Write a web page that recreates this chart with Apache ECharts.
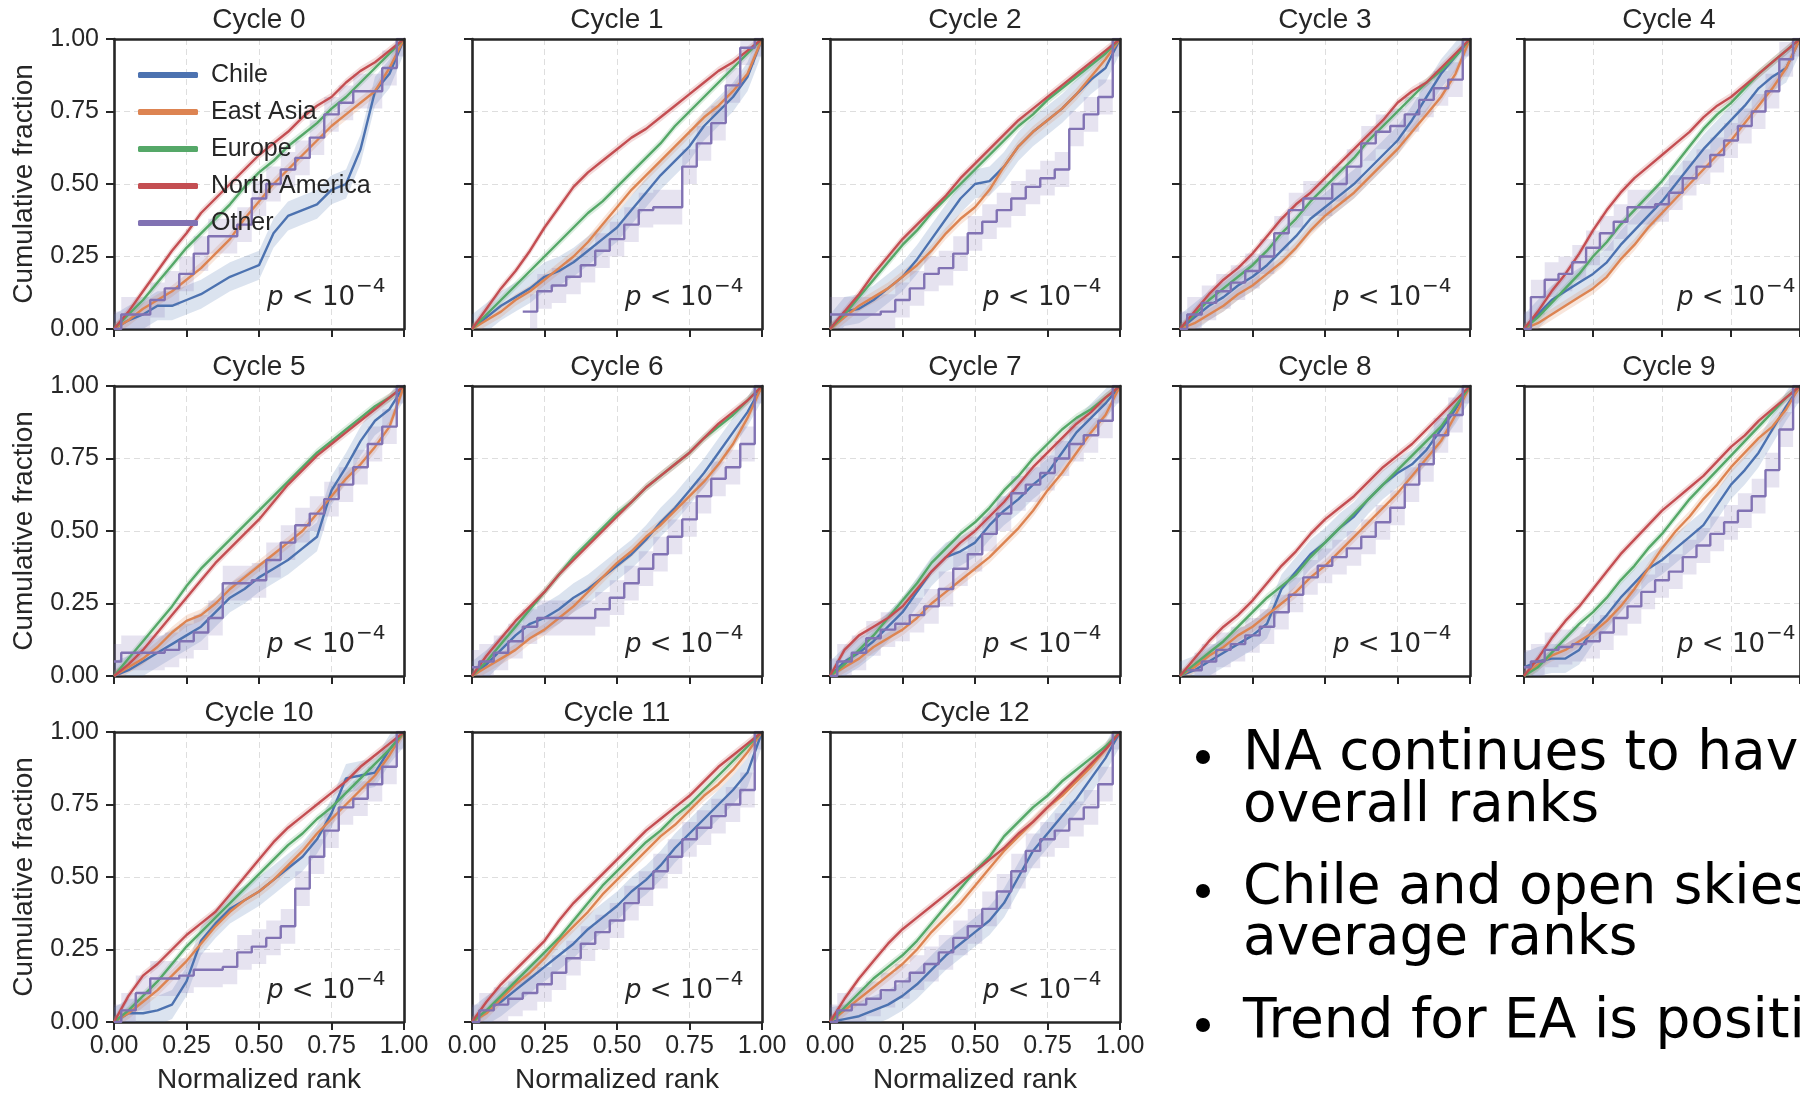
<!DOCTYPE html>
<html>
<head>
<meta charset="utf-8">
<script src="https://cdn.jsdelivr.net/npm/echarts@6/dist/echarts.min.js"></script>
<style>
html,body{margin:0;padding:0;background:#fff;}
#chart{width:1800px;height:1095px;}
</style>
</head>
<body>
<div id="chart"></div>
<script>
// ---------- data ----------
const cycles = ['Cycle 0','Cycle 1','Cycle 2','Cycle 3','Cycle 4','Cycle 5','Cycle 6','Cycle 7','Cycle 8','Cycle 9','Cycle 10','Cycle 11','Cycle 12'];
const groups = ['Chile','East Asia','Europe','North America','Other'];
const rankGrid = [0,0.05,0.1,0.15,0.2,0.25,0.3,0.35,0.4,0.45,0.5,0.55,0.6,0.65,0.7,0.75,0.8,0.85,0.9,0.95,1];
const tickLabels = ['0.00','0.25','0.50','0.75','1.00'];
// approximate half-width of each group's shaded confidence band
const bandHalfWidth = [0.05, 0.02, 0.015, 0.015, 0.06];

const chile = [
 [0,0.03,0.05,0.08,0.08,0.1,0.12,0.15,0.18,0.2,0.22,0.33,0.39,0.41,0.43,0.48,0.5,0.62,0.82,0.88,1],
 [0,0.04,0.08,0.11,0.14,0.18,0.2,0.23,0.27,0.31,0.35,0.41,0.47,0.53,0.58,0.63,0.7,0.75,0.8,0.87,1],
 [0,0.06,0.07,0.1,0.14,0.18,0.24,0.31,0.38,0.45,0.5,0.51,0.56,0.63,0.68,0.72,0.76,0.81,0.86,0.9,1],
 [0,0.04,0.08,0.11,0.15,0.18,0.22,0.27,0.32,0.38,0.42,0.46,0.5,0.55,0.6,0.65,0.72,0.8,0.88,0.94,1],
 [0,0.05,0.1,0.13,0.16,0.19,0.23,0.29,0.34,0.39,0.44,0.5,0.56,0.62,0.67,0.72,0.77,0.83,0.87,0.9,1],
 [0,0.02,0.05,0.08,0.11,0.14,0.17,0.22,0.27,0.3,0.34,0.37,0.4,0.44,0.48,0.64,0.72,0.81,0.88,0.92,1],
 [0,0.04,0.09,0.14,0.18,0.2,0.23,0.27,0.3,0.34,0.38,0.42,0.47,0.53,0.58,0.64,0.7,0.77,0.84,0.91,1],
 [0,0.05,0.08,0.12,0.17,0.22,0.29,0.36,0.41,0.43,0.46,0.52,0.57,0.61,0.66,0.7,0.77,0.84,0.89,0.94,1],
 [0,0.02,0.05,0.08,0.11,0.14,0.18,0.3,0.36,0.42,0.46,0.51,0.55,0.61,0.66,0.7,0.73,0.78,0.85,0.92,1],
 [0.03,0.05,0.06,0.06,0.09,0.16,0.21,0.27,0.32,0.37,0.4,0.44,0.48,0.52,0.59,0.66,0.71,0.77,0.85,0.93,1],
 [0,0.03,0.03,0.04,0.06,0.14,0.28,0.34,0.39,0.42,0.45,0.49,0.53,0.57,0.63,0.72,0.84,0.85,0.86,0.94,1],
 [0,0.04,0.07,0.11,0.15,0.19,0.23,0.27,0.32,0.36,0.4,0.45,0.49,0.54,0.6,0.65,0.7,0.75,0.8,0.86,1],
 [0,0.01,0.02,0.04,0.06,0.09,0.13,0.18,0.23,0.27,0.31,0.35,0.41,0.5,0.59,0.65,0.71,0.77,0.84,0.91,1]
];
const eastAsia = [
 [0,0.03,0.07,0.1,0.13,0.17,0.21,0.26,0.31,0.38,0.44,0.5,0.55,0.6,0.65,0.7,0.74,0.78,0.82,0.9,1],
 [0,0.03,0.06,0.1,0.13,0.17,0.21,0.25,0.3,0.36,0.42,0.48,0.53,0.58,0.63,0.68,0.73,0.77,0.82,0.88,1],
 [0,0.04,0.08,0.11,0.14,0.18,0.22,0.27,0.33,0.38,0.42,0.48,0.56,0.63,0.68,0.72,0.76,0.81,0.87,0.93,1],
 [0,0.02,0.05,0.08,0.12,0.15,0.19,0.23,0.28,0.34,0.39,0.43,0.47,0.52,0.57,0.62,0.68,0.74,0.8,0.88,1],
 [0,0.02,0.05,0.08,0.11,0.14,0.18,0.24,0.29,0.35,0.4,0.45,0.5,0.55,0.6,0.65,0.71,0.77,0.83,0.9,1],
 [0,0.03,0.06,0.1,0.15,0.19,0.21,0.25,0.3,0.34,0.38,0.42,0.46,0.5,0.56,0.62,0.68,0.73,0.79,0.86,1],
 [0,0.03,0.06,0.09,0.13,0.16,0.2,0.24,0.29,0.34,0.39,0.43,0.48,0.52,0.57,0.62,0.67,0.73,0.8,0.89,1],
 [0,0.03,0.06,0.1,0.13,0.16,0.2,0.25,0.29,0.33,0.37,0.41,0.46,0.51,0.57,0.64,0.7,0.77,0.84,0.9,1],
 [0,0.03,0.07,0.1,0.14,0.17,0.21,0.25,0.29,0.34,0.38,0.43,0.48,0.53,0.58,0.63,0.69,0.75,0.81,0.9,1],
 [0,0.04,0.07,0.09,0.12,0.15,0.19,0.24,0.3,0.37,0.44,0.5,0.55,0.61,0.66,0.72,0.77,0.82,0.86,0.92,1],
 [0,0.03,0.07,0.11,0.16,0.21,0.27,0.33,0.38,0.42,0.45,0.49,0.54,0.59,0.65,0.7,0.75,0.8,0.85,0.92,1],
 [0,0.03,0.08,0.13,0.17,0.22,0.28,0.33,0.38,0.44,0.49,0.54,0.59,0.64,0.68,0.73,0.78,0.82,0.87,0.93,1],
 [0,0.04,0.08,0.12,0.16,0.2,0.25,0.31,0.36,0.41,0.47,0.53,0.59,0.64,0.69,0.74,0.78,0.83,0.88,0.94,1]
];
const europe = [
 [0,0.05,0.1,0.16,0.22,0.28,0.33,0.38,0.43,0.49,0.54,0.58,0.63,0.67,0.71,0.76,0.8,0.85,0.9,0.95,1],
 [0,0.05,0.1,0.15,0.2,0.25,0.3,0.35,0.4,0.44,0.49,0.54,0.59,0.64,0.7,0.75,0.8,0.85,0.9,0.95,1],
 [0,0.05,0.11,0.17,0.23,0.29,0.34,0.4,0.45,0.5,0.55,0.6,0.65,0.7,0.74,0.79,0.83,0.87,0.91,0.95,1],
 [0,0.05,0.1,0.14,0.18,0.22,0.27,0.33,0.38,0.44,0.49,0.54,0.59,0.65,0.7,0.75,0.8,0.85,0.89,0.94,1],
 [0,0.04,0.09,0.14,0.19,0.25,0.3,0.36,0.41,0.46,0.51,0.57,0.63,0.69,0.74,0.78,0.83,0.88,0.92,0.96,1],
 [0,0.06,0.12,0.18,0.24,0.31,0.37,0.42,0.47,0.52,0.57,0.62,0.67,0.72,0.77,0.81,0.85,0.89,0.93,0.96,1],
 [0,0.05,0.11,0.17,0.23,0.29,0.35,0.41,0.46,0.51,0.56,0.6,0.65,0.69,0.73,0.77,0.82,0.86,0.9,0.95,1],
 [0,0.04,0.09,0.14,0.2,0.26,0.32,0.39,0.44,0.49,0.53,0.58,0.64,0.69,0.75,0.8,0.85,0.89,0.92,0.96,1],
 [0,0.04,0.08,0.12,0.17,0.22,0.27,0.31,0.35,0.41,0.46,0.51,0.56,0.61,0.66,0.71,0.76,0.81,0.86,0.93,1],
 [0,0.03,0.08,0.13,0.18,0.22,0.27,0.33,0.38,0.44,0.49,0.55,0.61,0.66,0.71,0.76,0.81,0.86,0.91,0.96,1],
 [0,0.04,0.09,0.14,0.2,0.26,0.31,0.36,0.41,0.46,0.51,0.56,0.61,0.65,0.7,0.74,0.79,0.84,0.89,0.94,1],
 [0,0.04,0.09,0.14,0.19,0.24,0.29,0.35,0.41,0.47,0.52,0.57,0.62,0.66,0.71,0.75,0.8,0.85,0.9,0.95,1],
 [0,0.05,0.1,0.15,0.19,0.23,0.28,0.34,0.4,0.46,0.52,0.57,0.64,0.69,0.74,0.78,0.83,0.87,0.91,0.95,1]
];
const northAmerica = [
 [0,0.06,0.13,0.2,0.27,0.33,0.4,0.45,0.5,0.55,0.6,0.64,0.68,0.73,0.77,0.8,0.85,0.89,0.92,0.96,1],
 [0,0.07,0.14,0.2,0.27,0.35,0.42,0.49,0.54,0.58,0.62,0.66,0.69,0.73,0.77,0.81,0.85,0.89,0.92,0.96,1],
 [0,0.06,0.12,0.19,0.25,0.31,0.36,0.41,0.46,0.52,0.57,0.62,0.67,0.72,0.76,0.8,0.84,0.88,0.92,0.96,1],
 [0,0.06,0.12,0.17,0.21,0.26,0.32,0.38,0.43,0.47,0.52,0.57,0.62,0.67,0.72,0.78,0.82,0.85,0.9,0.95,1],
 [0,0.06,0.13,0.19,0.26,0.34,0.41,0.47,0.52,0.56,0.6,0.64,0.68,0.73,0.77,0.8,0.84,0.88,0.92,0.96,1],
 [0,0.04,0.09,0.15,0.21,0.27,0.33,0.39,0.44,0.49,0.54,0.6,0.66,0.71,0.76,0.8,0.84,0.88,0.92,0.96,1],
 [0,0.07,0.13,0.19,0.24,0.29,0.35,0.4,0.45,0.5,0.55,0.6,0.65,0.69,0.73,0.77,0.82,0.87,0.91,0.95,1],
 [0,0.09,0.14,0.17,0.2,0.24,0.3,0.36,0.41,0.46,0.5,0.55,0.6,0.66,0.72,0.77,0.82,0.87,0.91,0.96,1],
 [0,0.06,0.12,0.17,0.21,0.26,0.32,0.38,0.43,0.49,0.54,0.58,0.62,0.67,0.72,0.76,0.8,0.85,0.9,0.95,1],
 [0,0.06,0.13,0.19,0.24,0.3,0.36,0.42,0.47,0.52,0.57,0.61,0.65,0.69,0.74,0.79,0.83,0.88,0.92,0.96,1],
 [0,0.09,0.16,0.2,0.25,0.3,0.34,0.38,0.44,0.5,0.56,0.62,0.67,0.71,0.75,0.79,0.83,0.88,0.92,0.96,1],
 [0,0.07,0.13,0.18,0.23,0.28,0.35,0.41,0.46,0.51,0.56,0.61,0.66,0.7,0.74,0.78,0.83,0.88,0.92,0.96,1],
 [0,0.08,0.15,0.21,0.27,0.32,0.36,0.4,0.44,0.48,0.52,0.56,0.6,0.65,0.69,0.74,0.79,0.84,0.89,0.94,1]
];
const other = [
 [0,0.05,0.05,0.1,0.14,0.19,0.26,0.32,0.32,0.36,0.45,0.5,0.55,0.59,0.66,0.74,0.78,0.82,0.82,0.9,1],
 [null,null,null,null,0.06,0.13,0.15,0.18,0.22,0.27,0.31,0.36,0.41,0.42,0.42,0.56,0.64,0.71,0.84,0.97,1],
 [0.05,0.05,0.05,0.05,0.06,0.1,0.14,0.19,0.21,0.26,0.33,0.37,0.41,0.45,0.49,0.52,0.55,0.69,0.74,0.8,1],
 [0,0.05,0.09,0.13,0.16,0.2,0.25,0.33,0.41,0.45,0.45,0.5,0.56,0.64,0.68,0.7,0.74,0.79,0.83,0.86,1],
 [0,0.11,0.17,0.19,0.23,0.28,0.33,0.37,0.42,0.42,0.43,0.47,0.52,0.56,0.6,0.65,0.7,0.75,0.82,0.93,1],
 [0.05,0.08,0.08,0.08,0.09,0.12,0.15,0.2,0.32,0.32,0.33,0.4,0.46,0.52,0.56,0.61,0.66,0.72,0.8,0.86,1],
 [0.03,0.05,0.08,0.12,0.17,0.2,0.2,0.2,0.2,0.23,0.27,0.32,0.37,0.42,0.48,0.54,0.62,0.68,0.72,0.8,1],
 [0,0.05,0.08,0.13,0.16,0.18,0.21,0.24,0.3,0.37,0.42,0.49,0.56,0.63,0.66,0.7,0.75,0.8,0.83,0.88,1],
 [null,0.02,0.05,0.09,0.11,0.14,0.17,0.22,0.28,0.34,0.38,0.41,0.44,0.48,0.53,0.58,0.66,0.73,0.83,0.9,1],
 [0.03,0.05,0.09,0.1,0.11,0.12,0.15,0.2,0.24,0.29,0.33,0.36,0.41,0.45,0.49,0.53,0.57,0.62,0.71,0.85,1],
 [0,0.04,0.1,0.15,0.15,0.16,0.18,0.18,0.19,0.24,0.26,0.29,0.33,0.46,0.57,0.66,0.74,0.77,0.82,0.88,1],
 [0,0.04,0.06,0.08,0.1,0.13,0.17,0.22,0.27,0.31,0.35,0.41,0.46,0.52,0.57,0.63,0.67,0.71,0.75,0.8,1],
 [0,0.04,0.06,0.08,0.11,0.14,0.17,0.2,0.24,0.29,0.33,0.39,0.45,0.52,0.59,0.63,0.66,0.7,0.74,0.82,1]
];
const bulletLines = [
  ['NA continues to have better', 'overall ranks'],
  ['Chile and open skies have lower', 'average ranks'],
  ['Trend for EA is positive']
];

// ---------- styling / layout ----------
const FONT = '"Liberation Sans", Arial, sans-serif';
const MATHFONT = '"DejaVu Sans", sans-serif';
const INK = '#262626';
const COLORS = ['#4C72B0','#DD8452','#55A868','#C44E52','#8172B3'];
const COLS = [114, 472, 830, 1180, 1524];
const ROWS = [39, 386, 732];
const PW = 290, PH = 290;
const seriesData = [chile, eastAsia, europe, northAmerica, other];
const STEPPED = [false, false, false, false, true];

// vertices (in data space) traced by a curve, following ECharts' step:'middle' when stepped
function curveVertices(vals, stepped) {
  const pts = [];
  const n = rankGrid.length;
  for (let i = 0; i < n; i++) {
    const v = vals[i];
    if (v === null) continue;
    if (!stepped) { pts.push([rankGrid[i], v]); continue; }
    const x0 = (i > 0 && vals[i - 1] !== null) ? (rankGrid[i - 1] + rankGrid[i]) / 2 : rankGrid[i];
    const x1 = (i < n - 1) ? (rankGrid[i] + rankGrid[i + 1]) / 2 : rankGrid[i];
    pts.push([x0, v], [x1, v]);
  }
  return pts;
}
function bandRenderer(k, gi) {
  return function (params, api) {
    const hw = bandHalfWidth[gi];
    const pts = curveVertices(seriesData[gi][k], STEPPED[gi]);
    const up = pts.map(p => api.coord([p[0], p[1] + hw]));
    const lo = pts.map(p => api.coord([p[0], p[1] - hw])).reverse();
    return {type: 'polygon', shape: {points: up.concat(lo)},
      style: {fill: COLORS[gi], opacity: 0.2}};
  };
}

const grids = [], xAxes = [], yAxes = [], frameX = [], frameY = [], series = [], graphics = [];
cycles.forEach((name, k) => {
  const r = Math.floor(k / 5), c = k % 5;
  const left = COLS[c], top = ROWS[r];
  grids.push({left: left, top: top, width: PW, height: PH, show: false, containLabel: false});
  const common = {
    gridIndex: k, type: 'value', min: 0, max: 1, interval: 0.25,
    axisLine: {show: true, onZero: false, lineStyle: {color: INK, width: 2.6}},
    axisTick: {show: true, length: 8, lineStyle: {color: INK, width: 2}},
    splitLine: {show: true, lineStyle: {color: '#dedede', width: 1, type: [6, 4]}},
    nameLocation: 'middle',
    nameTextStyle: {fontSize: 28, color: INK, fontFamily: FONT}
  };
  xAxes.push(Object.assign({}, common, {
    axisLabel: {show: r === 2, margin: 12, fontSize: 25, color: INK, fontFamily: FONT,
      showMinLabel: true, showMaxLabel: true,
      formatter: v => tickLabels[Math.round(v * 4)]},
    name: r === 2 ? 'Normalized rank' : '', nameGap: 44
  }));
  yAxes.push(Object.assign({}, common, {
    axisLabel: {show: c === 0, margin: 15, fontSize: 25, color: INK, fontFamily: FONT,
      showMinLabel: true, showMaxLabel: true,
      formatter: v => tickLabels[Math.round(v * 4)]},
    name: c === 0 ? 'Cumulative fraction' : '', nameGap: 76, nameRotate: 90
  }));
  const frame = {gridIndex: k, type: 'value', min: 0, max: 1, z: 5,
    axisLine: {show: true, onZero: false, lineStyle: {color: INK, width: 2.6}},
    axisTick: {show: false}, axisLabel: {show: false}, splitLine: {show: false}};
  frameX.push(Object.assign({}, frame, {position: 'top'}));
  frameY.push(Object.assign({}, frame, {position: 'right'}));

  groups.forEach((g, gi) => {
    const vals = seriesData[gi][k];
    const lineData = rankGrid.map((x, i) => [x, vals[i] === null ? '-' : vals[i]]);
    series.push({
      type: 'custom', name: g + ' band', xAxisIndex: k, yAxisIndex: k,
      data: [[0.5, 0.5]], renderItem: bandRenderer(k, gi), clip: true, silent: true, z: 1
    });
    series.push({
      type: 'line', name: g, xAxisIndex: k, yAxisIndex: k, data: lineData,
      symbol: 'none', showSymbol: false, step: STEPPED[gi] ? 'middle' : false, z: 2,
      lineStyle: {color: COLORS[gi], width: 2.4},
      itemStyle: {color: COLORS[gi]}
    });
  });
  // panel title
  graphics.push({type: 'text', x: left + PW / 2, y: top - 19, z: 10,
    style: {text: name, font: '28px ' + FONT, fill: INK,
      textAlign: 'center', textVerticalAlign: 'middle', align: 'center', verticalAlign: 'middle'}});
  // p-value annotation
  graphics.push({type: 'text', x: left + PW - 49, y: top + 259, z: 10,
    style: {text: '{i|p} < 10', font: '26px ' + MATHFONT, fill: INK,
      rich: {i: {fontStyle: 'italic', fontSize: 26, fontFamily: 'DejaVu Sans', fill: INK}},
      textAlign: 'right', textVerticalAlign: 'middle', align: 'right', verticalAlign: 'middle'}});
  graphics.push({type: 'text', x: left + PW - 48, y: top + 248, z: 10,
    style: {text: '\u22124', font: '20px ' + MATHFONT, fill: INK,
      textAlign: 'left', textVerticalAlign: 'middle', align: 'left', verticalAlign: 'middle'}});
});

// bullet text
const BFONT = '55px "DejaVu Sans", sans-serif';
const bulletY = [[755, 807], [889, 940], [1023]];
bulletLines.forEach((lines, bi) => {
  graphics.push({type: 'circle', shape: {cx: 1203, cy: bulletY[bi][0] + 2, r: 7}, style: {fill: '#000'}, z: 10});
  lines.forEach((t, li) => {
    graphics.push({type: 'text', x: 1243, y: bulletY[bi][li], z: 10,
      style: {text: t, font: BFONT, fill: '#000',
        textAlign: 'left', textVerticalAlign: 'middle', align: 'left', verticalAlign: 'middle'}});
  });
});

const chart = echarts.init(document.getElementById('chart'), null, {renderer: 'canvas'});
chart.setOption({
  animation: false,
  backgroundColor: '#fff',
  grid: grids,
  xAxis: xAxes.concat(frameX),
  yAxis: yAxes.concat(frameY),
  legend: {
    data: groups, left: 133, top: 56, orient: 'vertical', selectedMode: false,
    itemWidth: 60, itemHeight: 6, itemGap: 9, icon: 'roundRect',
    textStyle: {fontSize: 25, color: INK, fontFamily: FONT, lineHeight: 28, padding: [0, 0, 0, 8]}
  },
  series: series,
  graphic: graphics
});
</script>
</body>
</html>
